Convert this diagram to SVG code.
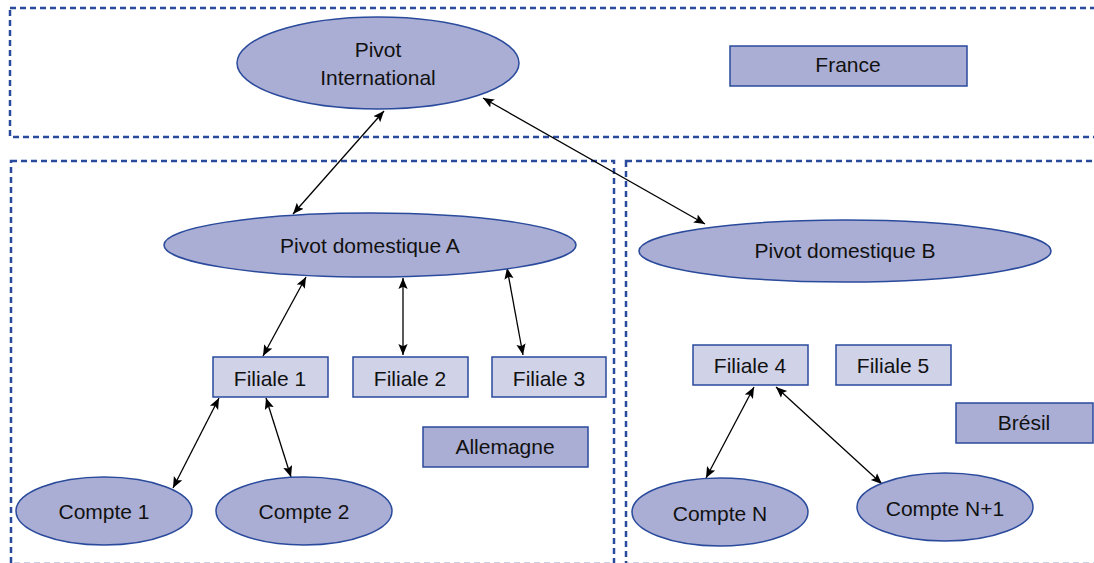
<svg xmlns="http://www.w3.org/2000/svg" width="1094" height="563" viewBox="0 0 1094 563">
<style>
.zone{fill:none;stroke:#2a4a9c;stroke-width:2.5;stroke-dasharray:6,4}
.ell{fill:#abaed4;stroke:#2a4a9c;stroke-width:1.5}
.ctry{fill:#abaed4;stroke:#2a4a9c;stroke-width:1.5}
.fil{fill:#d0d2e8;stroke:#2a4a9c;stroke-width:1.5}
text{font-family:"Liberation Sans",Arial,sans-serif;font-size:21px;fill:#111;text-anchor:middle}
.conn line{stroke:#000;stroke-width:1.3;marker-start:url(#ah);marker-end:url(#ah)}
</style>
<defs>
<marker id="ah" viewBox="0 0 10 10" refX="10" refY="5" markerWidth="11" markerHeight="11" markerUnits="userSpaceOnUse" orient="auto-start-reverse">
<path d="M0,0.8 L10,5 L0,9.2 L2,5 Z" fill="#000"/>
</marker>
</defs>
<rect width="1094" height="563" fill="#fff"/>
<g id="zones">
<rect id="zone-france" class="zone" x="10" y="8" width="1100" height="129"/>
<rect id="zone-allemagne" class="zone" x="11" y="161" width="603" height="403"/>
<rect id="zone-bresil" class="zone" x="626" y="161" width="480" height="403"/>
</g>
<g class="conn" id="connectors">
<line x1="384" y1="111" x2="293" y2="214"/>
<line x1="483" y1="98" x2="705" y2="224"/>
<line x1="306" y1="277" x2="263" y2="356"/>
<line x1="403" y1="278" x2="403" y2="355"/>
<line x1="507" y1="268" x2="523" y2="355"/>
<line x1="219" y1="398" x2="173" y2="488"/>
<line x1="266" y1="398" x2="291" y2="477"/>
<line x1="754" y1="387" x2="706" y2="478"/>
<line x1="776" y1="387" x2="882" y2="484"/>
</g>
<g id="pivot-international">
<ellipse class="ell" cx="378" cy="63" rx="141" ry="46"/>
<text x="378" y="57">Pivot</text>
<text x="378" y="85">International</text>
</g>
<g id="france">
<rect class="ctry" x="730" y="46" width="237" height="40"/>
<text x="848" y="72">France</text>
</g>
<g id="pivot-domestique-a">
<ellipse class="ell" cx="370" cy="245" rx="206" ry="32"/>
<text x="370" y="253">Pivot domestique A</text>
</g>
<g id="pivot-domestique-b">
<ellipse class="ell" cx="845" cy="251" rx="206" ry="31"/>
<text x="845" y="258">Pivot domestique B</text>
</g>
<g id="filiale-1">
<rect class="fil" x="213" y="357" width="115" height="40"/>
<text x="270" y="386">Filiale 1</text>
</g>
<g id="filiale-2">
<rect class="fil" x="353" y="357" width="115" height="40"/>
<text x="410" y="386">Filiale 2</text>
</g>
<g id="filiale-3">
<rect class="fil" x="492" y="357" width="114" height="40"/>
<text x="549" y="386">Filiale 3</text>
</g>
<g id="filiale-4">
<rect class="fil" x="693" y="345" width="115" height="40"/>
<text x="750" y="373">Filiale 4</text>
</g>
<g id="filiale-5">
<rect class="fil" x="836" y="345" width="115" height="40"/>
<text x="893" y="373">Filiale 5</text>
</g>
<g id="allemagne">
<rect class="ctry" x="423" y="427" width="165" height="40"/>
<text x="505" y="454">Allemagne</text>
</g>
<g id="bresil">
<rect class="ctry" x="956" y="403" width="137" height="40"/>
<text x="1024" y="430">Brésil</text>
</g>
<g id="compte-1">
<ellipse class="ell" cx="104" cy="511" rx="88" ry="34"/>
<text x="104" y="519">Compte 1</text>
</g>
<g id="compte-2">
<ellipse class="ell" cx="304" cy="511" rx="88" ry="34"/>
<text x="304" y="519">Compte 2</text>
</g>
<g id="compte-n">
<ellipse class="ell" cx="720" cy="512" rx="88" ry="34"/>
<text x="720" y="521">Compte N</text>
</g>
<g id="compte-n1">
<ellipse class="ell" cx="945" cy="507" rx="88" ry="34"/>
<text x="945" y="516">Compte N+1</text>
</g>
</svg>
